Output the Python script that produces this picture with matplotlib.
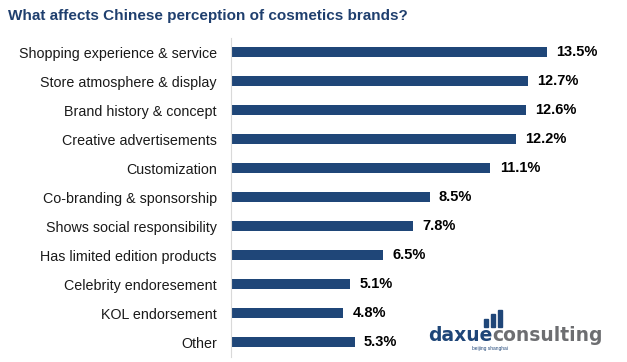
import numpy as np
import matplotlib.pyplot as plt

plt.rcParams['font.family'] = ['Liberation Sans', 'DejaVu Sans']

categories = ['Shopping experience & service', 'Store atmosphere & display',
              'Brand history & concept', 'Creative advertisements', 'Customization',
              'Co-branding & sponsorship', 'Shows social responsibility',
              'Has limited edition products', 'Celebrity endoresement',
              'KOL endorsement', 'Other']
values = [13.5, 12.7, 12.6, 12.2, 11.1, 8.5, 7.8, 6.5, 5.1, 4.8, 5.3]

bar_color = '#1f4678'
title_color = '#1f3f6e'

fig = plt.figure(figsize=(6.27, 3.62), dpi=100)
ax = fig.add_axes([0.368, 0.015, 0.597, 0.881])

y = np.arange(len(categories))
ax.barh(y, values, height=0.35, color=bar_color)
for yi, v in zip(y, values):
    ax.text(v + 0.4, yi, '{:.1f}%'.format(v), va='center', ha='left',
            fontsize=10.5, fontweight='bold', color='black')

ax.set_yticks(y)
ax.set_yticklabels(categories, fontsize=10.3, color='#1a1a1a')
ax.set_ylim(len(categories) - 0.5, -0.5)
ax.set_xlim(0, 16)
ax.set_xticks([])
ax.tick_params(axis='y', length=0, pad=10)
for s in ['top', 'right', 'bottom']:
    ax.spines[s].set_visible(False)
ax.spines['left'].set_color('#d9d9d9')
ax.spines['left'].set_linewidth(0.8)

fig.text(0.013, 0.955, 'What affects Chinese perception of cosmetics brands?',
         fontsize=11, fontweight='bold', color=title_color, va='center')

# logo
fig.text(0.785, 0.058, 'daxue', fontsize=13.5, fontweight='bold', family='DejaVu Sans',
         color='#1f4678', va='baseline', ha='right')
fig.text(0.785, 0.058, 'consulting', fontsize=13.5, fontweight='bold', family='DejaVu Sans',
         color='#6d6e71', va='baseline', ha='left')
fig.text(0.753, 0.036, 'beijing shanghai', fontsize=3.5, color='#1f4678',
         va='center', ha='left')
for i, h in enumerate([0.022, 0.035, 0.047]):
    fig.patches.append(plt.Rectangle((0.772 + i * 0.011, 0.098), 0.006, h,
                                     transform=fig.transFigure, color='#1f4678'))

fig.savefig('out.png', dpi=100)
